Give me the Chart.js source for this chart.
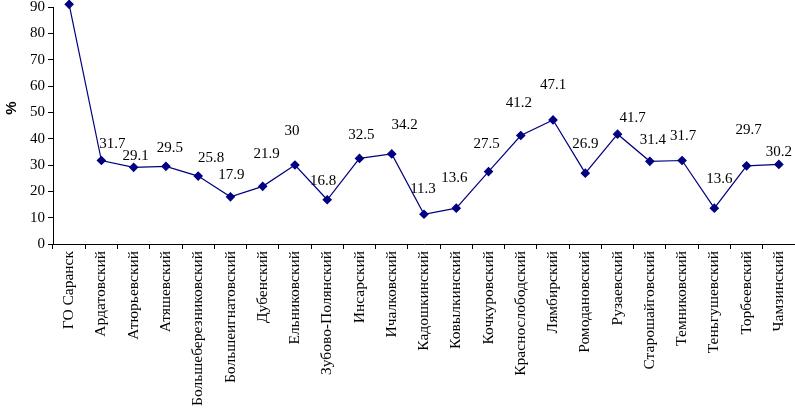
<!doctype html>
<html>
<head>
<meta charset="utf-8">
<title>Chart</title>
<style>
  html, body { margin: 0; padding: 0; background: #fff; }
  .chart-container { position: relative; width: 795px; height: 412px; }
</style>
</head>
<body>
<div class="chart-container"><canvas id="chart" width="795" height="412"></canvas></div>

<script src="https://cdn.jsdelivr.net/npm/chart.js"></script>
<script>

	const districts = [
		'ГО Саранск', 'Ардатовский', 'Атюрьевский', 'Атяшевский', 'Большеберезниковский',
		'Большеигнатовский', 'Дубенский', 'Ельниковский', 'Зубово-Полянский', 'Инсарский',
		'Ичалковский', 'Кадошкинский', 'Ковылкинский', 'Кочкуровский', 'Краснослободский',
		'Лямбирский', 'Ромодановский', 'Рузаевский', 'Старошайговский', 'Темниковский',
		'Теньгушевский', 'Торбеевский', 'Чамзинский'
	]
	const percent = [
		91, 31.7, 29.1, 29.5, 25.8, 17.9, 21.9, 30, 16.8, 32.5, 34.2, 11.3,
		13.6, 27.5, 41.2, 47.1, 26.9, 41.7, 31.4, 31.7, 13.6, 29.7, 30.2
	]
	const yTicks = [0, 10, 20, 30, 40, 50, 60, 70, 80, 90]
	const yTitle = '%'

	// label nudges relative to each point (px), as placed in the original
	const labelDx = [0, 11, 2, 4, 13, 1, 4, -3, -4, 2, 13, -1, -2, -2, -2, 0, 0, 15, 3, 1, 5, 2, 0]
	const labelDy = [-18, -16, -11, -18, -18, -22, -32, -34, -19, -23, -29, -25, -30, -28, -32, -35, -29, -16, -21, -24, -29, -36, -12]

	const navy = '#000080'
	const serif = "'Liberation Serif', 'Times New Roman', serif"

	const valueLabels = {
		id: 'valueLabels',
		afterDatasetsDraw(chart) {
			const ctx = chart.ctx
			const meta = chart.getDatasetMeta(0)
			ctx.save()
			ctx.font = '15px ' + serif
			ctx.fillStyle = '#000'
			ctx.textAlign = 'center'
			ctx.textBaseline = 'middle'
			meta.data.forEach((pt, i) => {
				ctx.fillText(String(percent[i]), pt.x + labelDx[i], pt.y + labelDy[i])
			})
			// axis title, sits a bit above the middle in the original
			ctx.translate(12, 108)
			ctx.rotate(-Math.PI / 2)
			ctx.font = "bold 15px 'Liberation Sans', Arial, sans-serif"
			ctx.fillText(yTitle, 0, 0)
			ctx.restore()
		}
	}

	new Chart(document.getElementById('chart'), {
		type: 'line',
		data: {
			labels: districts,
			datasets: [{
				data: percent,
				borderColor: navy,
				backgroundColor: navy,
				borderWidth: 1.2,
				pointStyle: 'rectRot',
				pointRadius: 4,
				pointBackgroundColor: navy,
				pointBorderColor: navy,
				tension: 0,
				clip: false
			}]
		},
		options: {
			responsive: false,
			animation: false,
			devicePixelRatio: 1,
			layout: { autoPadding: false, padding: { top: 7, right: 0, bottom: 0, left: 0 } },
			plugins: {
				legend: { display: false },
				tooltip: { enabled: false }
			},
			scales: {
				x: {
					offset: true,
					grid: {
						offset: true,
						drawOnChartArea: false,
						drawTicks: true,
						tickLength: 5,
						color: '#000'
					},
					border: { color: '#000', width: 1 },
					ticks: {
						autoSkip: false,
						maxRotation: 90,
						minRotation: 90,
						padding: 2,
						color: '#000',
						font: { family: serif, size: 15.5 }
					},
					afterFit(scale) {
						scale.height = 168
						scale.paddingLeft = 0
						scale.paddingRight = 0
					}
				},
				y: {
					min: 0,
					max: 90,
					afterBuildTicks(scale) { scale.ticks = yTicks.map(v => ({ value: v })) },
					grid: {
						drawOnChartArea: false,
						drawTicks: true,
						tickLength: 5,
						color: '#000'
					},
					border: { color: '#000', width: 1 },
					ticks: {
						padding: 3,
						color: '#000',
						font: { family: serif, size: 15 }
					},
					afterFit(scale) {
						scale.width = 53
						scale.paddingTop = 0
					}
				}
			}
		},
		plugins: [valueLabels]
	})

</script>
</body>
</html>
